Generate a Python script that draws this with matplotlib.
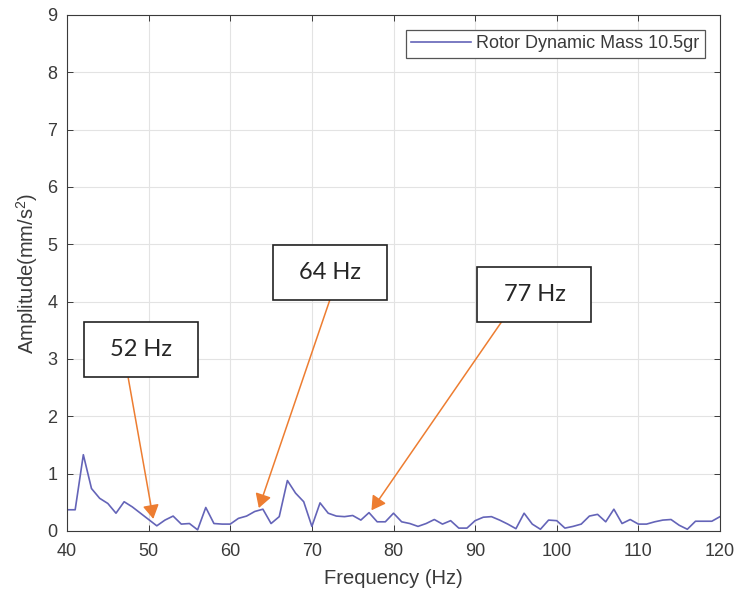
import matplotlib.pyplot as plt
import numpy as np

plt.rcParams['font.family'] = ['Liberation Sans', 'DejaVu Sans']
plt.rcParams['mathtext.default'] = 'regular'

# Spectrum (1 Hz steps, 40..120 Hz)
freq = np.arange(40, 121)
amp = [0.37, 0.37, 1.33, 0.74, 0.57, 0.48, 0.31, 0.51, 0.42, 0.31,
       0.20, 0.09, 0.19, 0.26, 0.12, 0.13, 0.02, 0.41, 0.13, 0.12,
       0.12, 0.22, 0.26, 0.34, 0.38, 0.13, 0.25, 0.88, 0.66, 0.51,
       0.08, 0.49, 0.31, 0.26, 0.25, 0.27, 0.19, 0.32, 0.16, 0.16,
       0.31, 0.16, 0.13, 0.08, 0.13, 0.20, 0.12, 0.18, 0.05, 0.05,
       0.18, 0.24, 0.25, 0.19, 0.12, 0.04, 0.31, 0.12, 0.03, 0.19,
       0.18, 0.05, 0.08, 0.12, 0.26, 0.29, 0.16, 0.38, 0.13, 0.20,
       0.12, 0.12, 0.16, 0.19, 0.20, 0.10, 0.03, 0.17, 0.17, 0.17,
       0.25]

# callouts: label, text centre, arrow start, arrow tip
peak_labels = ['52 Hz', '64 Hz', '77 Hz']
peak_text_xy = [(49.07, 3.17), (72.2, 4.51), (97.27, 4.13)]
peak_arrow_from = [(47.5, 2.67), (72.2, 4.03), (93.3, 3.66)]
peak_arrow_to = [(50.57, 0.21), (63.5, 0.40), (77.3, 0.36)]
box_w, box_h = 13.97, 0.96

fig = plt.figure(figsize=(7.38, 5.95), dpi=100)
ax = fig.add_axes([0.0908, 0.1076, 0.8848, 0.8672])

ax.plot(freq, amp, color='#6464b8', lw=1.2, label='Rotor Dynamic Mass 10.5gr')

ax.set_xlim(40, 120)
ax.set_ylim(0, 9)
ax.set_xticks(np.arange(40, 121, 10))
ax.set_yticks(np.arange(0, 10, 1))
ax.grid(True, color='#e3e3e3', lw=0.8)
ax.set_axisbelow(True)
ax.tick_params(direction='in', top=True, right=True, length=4, width=0.7,
               labelsize=13, colors='#3a3a3a', labelcolor='#3a3a3a')
ax.tick_params(axis='x', pad=9)
ax.tick_params(axis='y', pad=7)
for s in ax.spines.values():
    s.set_color('#3a3a3a')
    s.set_linewidth(0.8)

ax.set_xlabel('Frequency (Hz)', fontsize=14.5, color='#3a3a3a', labelpad=6)
ax.set_ylabel('Amplitude(mm/s$^2$)', fontsize=14.5, color='#3a3a3a', labelpad=5)

leg = ax.legend(loc='upper right', bbox_to_anchor=(0.977, 0.971), borderaxespad=0,
                fontsize=13, handlelength=3.3, fancybox=False, framealpha=1,
                borderpad=0.3, handletextpad=0.3)
leg.get_frame().set_edgecolor('#555555')
leg.get_frame().set_linewidth(0.9)
for t in leg.get_texts():
    t.set_color('#3a3a3a')

for lab, txy, a0, a1 in zip(peak_labels, peak_text_xy, peak_arrow_from, peak_arrow_to):
    ax.annotate('', xy=a1, xytext=a0,
                arrowprops=dict(arrowstyle='-|>,head_length=0.6,head_width=0.35',
                                color='#ED7D31', lw=1.1,
                                mutation_scale=14, shrinkA=0, shrinkB=0))
    ax.add_patch(plt.Rectangle((txy[0] - box_w / 2, txy[1] - box_h / 2), box_w, box_h,
                               facecolor='white', edgecolor='#222222', lw=1.2, zorder=5))
    ax.text(txy[0], txy[1], lab, ha='center', va='center', fontsize=17,
            family=['Lato', 'DejaVu Sans'], color='#262626', zorder=6)

fig.savefig('out.png', dpi=100)
